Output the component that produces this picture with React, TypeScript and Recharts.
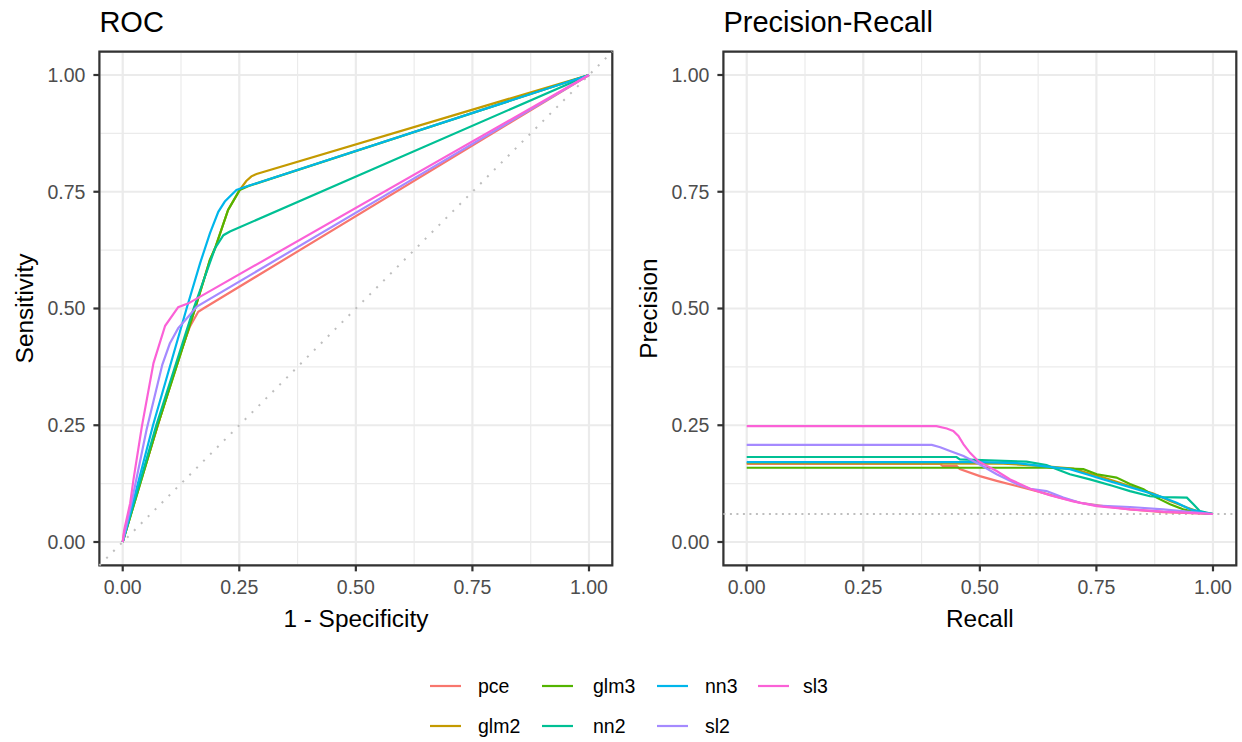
import React from 'react';
import { LineChart, Line, XAxis, YAxis, CartesianGrid, ReferenceLine, ReferenceArea } from 'recharts';

// ---------- data ----------
const seriesNames = ['pce', 'glm2', 'glm3', 'nn2', 'nn3', 'sl2', 'sl3'];
const seriesColors = ['#F8766D', '#C49A00', '#53B400', '#00C094', '#00B6EB', '#A58AFF', '#FB61D7'];

const majorTicks = [0, 0.25, 0.5, 0.75, 1];
const minorTicks = [0.125, 0.375, 0.625, 0.875];
const prBaseline = 0.06;

// ROC: 1 - specificity (fpr) and sensitivity (tpr)
const rocPceFpr = [0, 0.003, 0.06, 0.116, 0.144, 0.162, 0.173, 1];
const rocPceTpr = [0, 0.02, 0.2, 0.383, 0.461, 0.493, 0.5, 1];
const rocGlm2Fpr = [0, 0.075, 0.155, 0.187, 0.198, 0.226, 0.251, 0.265, 0.276, 0.287, 1];
const rocGlm2Tpr = [0, 0.25, 0.499, 0.604, 0.629, 0.711, 0.754, 0.773, 0.783, 0.788, 1];
const rocGlm3Fpr = [0, 0.075, 0.155, 0.187, 0.198, 0.226, 0.251, 0.269, 1];
const rocGlm3Tpr = [0, 0.25, 0.499, 0.604, 0.629, 0.711, 0.754, 0.762, 1];
const rocNn2Fpr = [0, 0.072, 0.152, 0.198, 0.216, 0.23, 1];
const rocNn2Tpr = [0, 0.25, 0.5, 0.629, 0.657, 0.665, 1];
const rocNn3Fpr = [0, 0.065, 0.137, 0.166, 0.187, 0.205, 0.219, 0.244, 0.262, 1];
const rocNn3Tpr = [0, 0.25, 0.5, 0.597, 0.661, 0.707, 0.729, 0.754, 0.76, 1];
const rocSl2Fpr = [0, 0.023, 0.051, 0.085, 0.101, 0.119, 0.134, 0.159, 1];
const rocSl2Tpr = [0, 0.104, 0.24, 0.38, 0.425, 0.458, 0.475, 0.504, 1];
const rocSl3Fpr = [0, 0.003, 0.016, 0.023, 0.041, 0.066, 0.091, 0.119, 0.141, 1];
const rocSl3Tpr = [0, 0.025, 0.083, 0.133, 0.247, 0.383, 0.463, 0.503, 0.511, 1];

// Precision-Recall
const prPceRecall = [0, 0.415, 0.42, 0.45, 0.457, 0.5, 0.536, 0.579, 0.622, 0.672, 0.715, 0.765, 0.822, 0.893, 1];
const prPcePrecision = [0.167, 0.167, 0.163, 0.163, 0.156, 0.141, 0.131, 0.12, 0.109, 0.095, 0.084, 0.077, 0.07, 0.064, 0.06];
const prGlm2Recall = [0, 0.55, 0.629, 0.7, 0.729, 0.765, 0.8, 0.836, 0.872, 0.908, 0.944, 0.972, 1];
const prGlm2Precision = [0.169, 0.168, 0.163, 0.157, 0.148, 0.138, 0.127, 0.115, 0.104, 0.088, 0.074, 0.064, 0.06];
const prGlm3Recall = [0, 0.643, 0.722, 0.751, 0.793, 0.822, 0.851, 0.879, 0.908, 0.936, 0.965, 1];
const prGlm3Precision = [0.159, 0.159, 0.156, 0.145, 0.138, 0.124, 0.113, 0.095, 0.081, 0.07, 0.063, 0.06];
const prNn2Recall = [0, 0.45, 0.457, 0.6, 0.643, 0.665, 0.693, 0.736, 0.786, 0.822, 0.865, 0.893, 0.944, 0.958, 0.972, 1];
const prNn2Precision = [0.182, 0.182, 0.177, 0.172, 0.165, 0.156, 0.145, 0.134, 0.12, 0.109, 0.098, 0.096, 0.095, 0.081, 0.066, 0.06];
const prNn3Recall = [0, 0.5, 0.58, 0.629, 0.693, 0.729, 0.765, 0.8, 0.851, 0.886, 0.922, 0.951, 0.98, 1];
const prNn3Precision = [0.171, 0.171, 0.169, 0.163, 0.156, 0.145, 0.134, 0.124, 0.109, 0.098, 0.084, 0.07, 0.063, 0.06];
const prSl2Recall = [0, 0.397, 0.415, 0.436, 0.465, 0.5, 0.536, 0.579, 0.608, 0.643, 0.679, 0.715, 0.751, 0.822, 0.893, 1];
const prSl2Precision = [0.208, 0.208, 0.203, 0.195, 0.184, 0.166, 0.145, 0.124, 0.114, 0.109, 0.095, 0.084, 0.078, 0.075, 0.07, 0.06];
const prSl3Recall = [0, 0.407, 0.429, 0.443, 0.454, 0.465, 0.479, 0.497, 0.515, 0.536, 0.565, 0.608, 0.65, 0.7, 0.751, 0.822, 0.893, 1];
const prSl3Precision = [0.248, 0.248, 0.243, 0.238, 0.227, 0.209, 0.191, 0.173, 0.163, 0.152, 0.134, 0.114, 0.1, 0.087, 0.077, 0.07, 0.065, 0.06];

const rocX = [rocPceFpr, rocGlm2Fpr, rocGlm3Fpr, rocNn2Fpr, rocNn3Fpr, rocSl2Fpr, rocSl3Fpr];
const rocY = [rocPceTpr, rocGlm2Tpr, rocGlm3Tpr, rocNn2Tpr, rocNn3Tpr, rocSl2Tpr, rocSl3Tpr];
const prX = [prPceRecall, prGlm2Recall, prGlm3Recall, prNn2Recall, prNn3Recall, prSl2Recall, prSl3Recall];
const prY = [prPcePrecision, prGlm2Precision, prGlm3Precision, prNn2Precision, prNn3Precision, prSl2Precision, prSl3Precision];

const toPoints = (xs: number[], ys: number[]) => xs.map((x, i) => ({ x, y: ys[i] }));
const rocSeries = seriesNames.map((name, i) => ({ name, color: seriesColors[i], points: toPoints(rocX[i], rocY[i]) }));
const prSeries = seriesNames.map((name, i) => ({ name, color: seriesColors[i], points: toPoints(prX[i], prY[i]) }));

// ---------- style ----------
const FONT = '"Liberation Sans", Arial, Helvetica, sans-serif';
const DOMAIN: [number, number] = [-0.05, 1.05];
const TICK_FONT = 19.5;
const AXIS_TITLE_FONT = 24.4;
const TITLE_FONT = 29;
const LINE_W = 2.2;

const fmt = (v: number) => v.toFixed(2);

type PanelProps = {
  series: { name: string; color: string; points: { x: number; y: number }[] }[];
  width: number;
  height: number;
  yAxisWidth: number;
  marginRight: number;
  kind: 'roc' | 'pr';
};

function Panel({ series, width, height, yAxisWidth, marginRight, kind }: PanelProps) {
  const top = 51.65;
  const plotBottom = 565.35;
  const xAxisHeight = height - plotBottom;
  const tickStyle = { fill: '#4d4d4d', fontSize: TICK_FONT, fontFamily: FONT };
  const tickLine = { stroke: '#333333', strokeWidth: LINE_W };
  return (
    <LineChart width={width} height={height} margin={{ top, right: marginRight, bottom: 0, left: 0 }}>
      <XAxis
        xAxisId="minor"
        type="number"
        dataKey="x"
        domain={DOMAIN}
        ticks={minorTicks}
        allowDataOverflow
        hide
      />
      <YAxis yAxisId="minor" type="number" dataKey="y" domain={DOMAIN} ticks={minorTicks} allowDataOverflow hide />
      <CartesianGrid xAxisId="minor" yAxisId="minor" stroke="#ebebeb" strokeWidth={1.2} />
      <XAxis
        type="number"
        dataKey="x"
        domain={DOMAIN}
        ticks={majorTicks}
        interval={0}
        allowDataOverflow
        tickFormatter={fmt}
        height={xAxisHeight}
        tick={tickStyle}
        tickLine={tickLine}
        tickSize={6}
        tickMargin={9}
        axisLine={false}
      />
      <YAxis
        type="number"
        dataKey="y"
        domain={DOMAIN}
        ticks={majorTicks}
        interval={0}
        allowDataOverflow
        tickFormatter={fmt}
        width={yAxisWidth}
        tick={tickStyle}
        tickLine={tickLine}
        tickSize={6}
        tickMargin={8}
        axisLine={false}
      />
      <CartesianGrid stroke="#ebebeb" strokeWidth={LINE_W} />
      {kind === 'roc' ? (
        <ReferenceLine
          segment={[{ x: DOMAIN[0], y: DOMAIN[0] }, { x: DOMAIN[1], y: DOMAIN[1] }]}
          stroke="#bebebe"
          strokeWidth={2}
          strokeDasharray="2 7.8"
          ifOverflow="visible"
        />
      ) : (
        <ReferenceLine y={prBaseline} stroke="#bebebe" strokeWidth={2} strokeDasharray="2 4.5" />
      )}
      {series.map((s) => (
        <Line
          key={s.name}
          data={s.points}
          dataKey="y"
          name={s.name}
          type="linear"
          stroke={s.color}
          strokeWidth={LINE_W}
          dot={false}
          activeDot={false}
          isAnimationActive={false}
        />
      ))}
      <ReferenceArea
        x1={DOMAIN[0]}
        x2={DOMAIN[1]}
        y1={DOMAIN[0]}
        y2={DOMAIN[1]}
        fill="none"
        fillOpacity={0}
        stroke="#333333"
        strokeWidth={LINE_W}
        ifOverflow="visible"
      />
    </LineChart>
  );
}

// legend layout (column-major, 2 rows)
const legendKeyX = [430, 542, 657, 758];
const legendLabelX = [478, 593, 705, 803];
const legendRowY = [686, 726];

export default function App() {
  return (
    <div style={{ position: 'absolute', left: 0, top: 0, width: 1242, height: 742, background: '#ffffff', fontFamily: FONT }}>
      <div style={{ position: 'absolute', left: 0, top: 0 }}>
        <Panel series={rocSeries} width={620} height={660} yAxisWidth={99.4} marginRight={7.7} kind="roc" />
      </div>
      <div style={{ position: 'absolute', left: 620, top: 0 }}>
        <Panel series={prSeries} width={622} height={660} yAxisWidth={103.4} marginRight={5.7} kind="pr" />
      </div>
      <svg width={1242} height={742} style={{ position: 'absolute', left: 0, top: 0, pointerEvents: 'none' }}>
        <g fontFamily={FONT} fill="#000000">
          <text x={99.4} y={32} fontSize={TITLE_FONT}>ROC</text>
          <text x={723.4} y={32} fontSize={TITLE_FONT}>Precision-Recall</text>
          <text x={355.9} y={627} fontSize={AXIS_TITLE_FONT} textAnchor="middle">1 - Specificity</text>
          <text x={979.9} y={627} fontSize={AXIS_TITLE_FONT} textAnchor="middle">Recall</text>
          <text transform="translate(33,308.5) rotate(-90)" fontSize={AXIS_TITLE_FONT} textAnchor="middle">Sensitivity</text>
          <text transform="translate(657,308.5) rotate(-90)" fontSize={AXIS_TITLE_FONT} textAnchor="middle">Precision</text>
        </g>
        <g fontFamily={FONT}>
          {seriesNames.map((name, i) => {
            const col = Math.floor(i / 2);
            const row = i % 2;
            const y = legendRowY[row];
            return (
              <g key={name}>
                <line x1={legendKeyX[col]} x2={legendKeyX[col] + 31} y1={y} y2={y} stroke={seriesColors[i]} strokeWidth={LINE_W} />
                <text x={legendLabelX[col]} y={y + 7} fontSize={TICK_FONT} fill="#000000">{name}</text>
              </g>
            );
          })}
        </g>
      </svg>
    </div>
  );
}
